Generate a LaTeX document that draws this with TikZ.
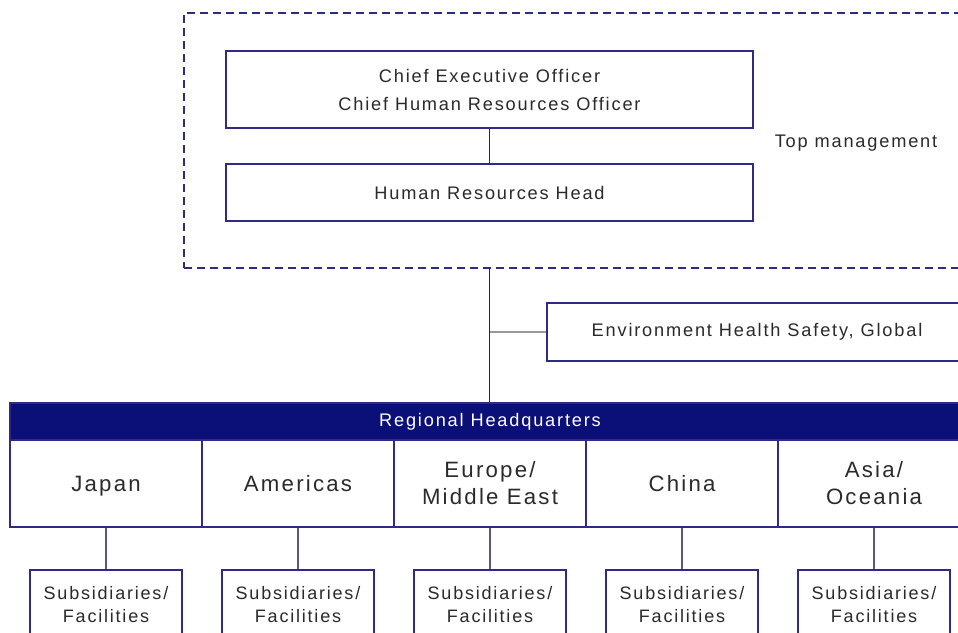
\documentclass[tikz,border=0pt]{standalone}
\usepackage{fontspec}
\setmainfont{Liberation Sans}[LetterSpace=10]
\definecolor{navy}{HTML}{2E2A86}
\definecolor{band}{HTML}{0B0F78}
\definecolor{txt}{HTML}{2A2A2A}
\definecolor{conn}{HTML}{5A5490}
\begin{document}
\begin{tikzpicture}[x=1pt,y=-1pt,
  box/.style={draw=navy,line width=1.8pt,fill=white,text=txt,align=center,inner sep=0pt,
    font=\fontsize{18.2}{28}\selectfont},
  regbox/.style={box,minimum width=192pt,minimum height=87pt,font=\fontsize{22.2}{27}\selectfont},
  subbox/.style={box,minimum width=152pt,minimum height=69pt,font=\fontsize{18}{23}\selectfont},
  dashbox/.style={draw=navy,line width=1.8pt,dash pattern=on 8pt off 5pt,inner sep=0pt},
  lbl/.style={text=txt,font=\fontsize{18.2}{22}\selectfont,inner sep=0pt},
  link/.style={line width=1.2pt}]
\useasboundingbox (0,0) rectangle (958,632);
\clip (0,0) rectangle (958,632);
\fill[white] (0,0) rectangle (958,632);
% top management group
\node[dashbox,minimum width=788pt,minimum height=255pt] (top) at (578,140.5) {};
\node[box,minimum width=527pt,minimum height=77pt] (ceo) at (489.5,89.5)
  {Chief Executive Officer\\Chief Human Resources Officer};
\node[box,minimum width=527pt,minimum height=57pt] (hr) at (489.5,192.5) {Human Resources Head};
\node[lbl] (tm) at (856,143) {Top management};
\draw[link,draw=txt] (ceo) -- (hr);
% environment
\node[box,minimum width=420pt,minimum height=58pt] (env) at (757,332) {Environment Health Safety, Global};
% regional HQ
\node[draw=navy,fill=band,line width=1.8pt,text=white,minimum width=960pt,minimum height=37pt,inner sep=0pt,
  font=\fontsize{18.2}{22}\selectfont] (band) at (490,421.5) {Regional Headquarters};
\draw[link,draw=black!85] (top.south -| hr.south) -- (band.north -| hr.south);
\coordinate (j) at (env.west -| hr.south);
\draw[link,draw=gray!80] (j) -- (env.west);
\node[regbox] (r1) at (106,483.5) {\raisebox{0pt}[\height][0pt]{Japan}};
\node[regbox] (r2) at (298,483.5) {Americas};
\node[regbox] (r3) at (490,483.5) {Europe/\\Middle East};
\node[regbox] (r4) at (682,483.5) {China};
\node[regbox] (r5) at (874,483.5) {Asia/\\Oceania};
\foreach \i in {1,...,5}{
  \node[subbox,anchor=north] (s\i) at ([yshift=-41pt]r\i.south) {Subsidiaries/\\Facilities};
  \draw[link,draw=conn] (r\i) -- (s\i);
}
\end{tikzpicture}
\end{document}
